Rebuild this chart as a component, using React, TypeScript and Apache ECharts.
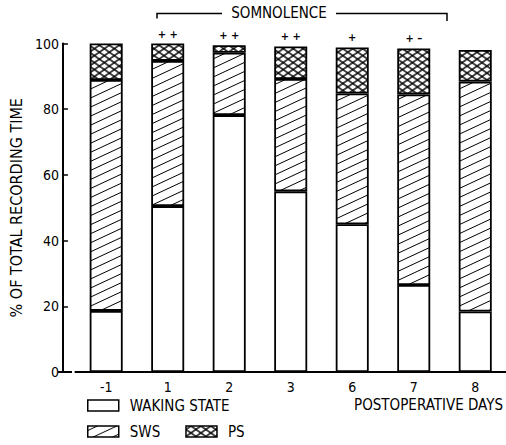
import React, { useEffect, useRef } from "react";
import * as echarts from "echarts";

const categories = ["-1", "1", "2", "3", "6", "7", "8"];
const waking = [18.6, 50.5, 78.2, 55.0, 45.0, 26.5, 18.4];
const sws = [70.3, 44.2, 19.0, 34.2, 39.8, 58.0, 70.0];
const ps = [11.1, 5.3, 2.3, 9.9, 14.0, 14.0, 9.6];
const markers = ["", "+ +", "+ +", "+ +", "+", "+ \u2013", ""];
const seriesNames = ["WAKING STATE", "SWS", "PS"];

const FONT = "'Liberation Sans Narrow', 'DejaVu Sans Condensed', 'Liberation Sans', sans-serif";
const PW = 520;
const PH = 460;

function toUrl(svg: string) {
  return "data:image/svg+xml;charset=utf-8," + encodeURIComponent(svg);
}

const hatchSvg = `<svg xmlns='http://www.w3.org/2000/svg' width='${PW}' height='${PH}'><defs><pattern id='h' width='40' height='8.2' patternUnits='userSpaceOnUse' patternTransform='rotate(-25)'><line x1='-5' y1='4.1' x2='45' y2='4.1' stroke='#000' stroke-width='1.1'/></pattern></defs><rect width='${PW}' height='${PH}' fill='#fff'/><rect width='${PW}' height='${PH}' fill='url(#h)'/></svg>`;

const crossSvg = `<svg xmlns='http://www.w3.org/2000/svg' width='${PW}' height='${PH}'><defs><pattern id='a' width='40' height='5.7' patternUnits='userSpaceOnUse' patternTransform='rotate(-35)'><line x1='-5' y1='2.85' x2='45' y2='2.85' stroke='#000' stroke-width='1.3'/></pattern><pattern id='b' width='40' height='5.7' patternUnits='userSpaceOnUse' patternTransform='rotate(35)'><line x1='-5' y1='2.85' x2='45' y2='2.85' stroke='#000' stroke-width='1.3'/></pattern></defs><rect width='${PW}' height='${PH}' fill='#fff'/><rect width='${PW}' height='${PH}' fill='url(#a)'/><rect width='${PW}' height='${PH}' fill='url(#b)'/></svg>`;

const hatchFill: any = { image: toUrl(hatchSvg), repeat: "repeat", imageWidth: PW, imageHeight: PH };
const crossFill: any = { image: toUrl(crossSvg), repeat: "repeat", imageWidth: PW, imageHeight: PH };

export default function App() {
  const ref = useRef<HTMLDivElement>(null);
  useEffect(() => {
    if (!ref.current) return;
    const chart = echarts.init(ref.current, null, { renderer: "svg" });
    const border = { borderColor: "#000", borderWidth: 1.8 };
    const legendCommon = {
      orient: "horizontal",
      left: 87,
      icon: "rect",
      itemWidth: 31,
      itemHeight: 11,
      itemGap: 25,
      padding: 0,
      selectedMode: false,
      itemStyle: { borderColor: "#000", borderWidth: 1.5 },
      textStyle: { fontFamily: FONT, fontSize: 15, color: "#000", padding: [0, 0, 0, 6] },
    };
    chart.setOption({
      animation: false,
      backgroundColor: "#fff",
      grid: { left: 71.5, top: 43.5, width: 455, height: 328.5 },
      xAxis: {
        type: "category",
        data: categories,
        axisLine: { lineStyle: { color: "#000", width: 2 } },
        axisTick: { show: false },
        axisLabel: { margin: 8, fontFamily: FONT, fontSize: 14, color: "#000" },
      },
      yAxis: {
        type: "value",
        min: 0,
        max: 100,
        interval: 20,
        offset: 12.5,
        name: "% OF TOTAL RECORDING TIME",
        nameLocation: "middle",
        nameGap: 31,
        nameTextStyle: { fontFamily: FONT, fontSize: 16, color: "#000" },
        axisLine: { show: true, lineStyle: { color: "#000", width: 2 } },
        axisTick: { show: true, inside: true, length: 5, lineStyle: { color: "#000", width: 1.5 } },
        axisLabel: { margin: 4, fontFamily: FONT, fontSize: 14, color: "#000" },
        splitLine: { show: false },
      },
      legend: [
        { ...legendCommon, top: 398, data: [seriesNames[0]] },
        { ...legendCommon, top: 424, data: [seriesNames[1], seriesNames[2]] },
      ],
      series: [
        {
          name: seriesNames[0],
          type: "bar",
          stack: "t",
          barWidth: 33,
          data: waking,
          itemStyle: { color: "#fff", ...border },
        },
        {
          name: seriesNames[1],
          type: "bar",
          stack: "t",
          barWidth: 33,
          data: sws,
          itemStyle: { color: hatchFill, ...border },
        },
        {
          name: seriesNames[2],
          type: "bar",
          stack: "t",
          barWidth: 33,
          data: ps,
          itemStyle: { color: crossFill, ...border },
          label: {
            show: true,
            position: "top",
            distance: 4,
            formatter: (p: any) => markers[p.dataIndex],
            fontFamily: FONT,
            fontSize: 11,
            fontWeight: "bold",
            color: "#000",
          },
        },
      ],
      graphic: [
        { type: "line", shape: { x1: 58, y1: 372, x2: 72, y2: 372 }, style: { stroke: "#000", lineWidth: 2 } },
        {
          type: "polyline",
          shape: { points: [[157, 18.5], [157, 13.5], [222, 13.5]] },
          style: { stroke: "#000", lineWidth: 1.5, fill: "none" },
        },
        {
          type: "polyline",
          shape: { points: [[336, 13.5], [447, 13.5], [447, 21]] },
          style: { stroke: "#000", lineWidth: 1.5, fill: "none" },
        },
        {
          type: "text",
          x: 279,
          y: 13,
          style: { text: "SOMNOLENCE", fontFamily: FONT, fontSize: 15, fill: "#000", align: "center", verticalAlign: "middle" },
        },
        {
          type: "text",
          x: 503,
          y: 405,
          style: { text: "POSTOPERATIVE DAYS", fontFamily: FONT, fontSize: 15, fill: "#000", align: "right", verticalAlign: "middle" },
        },
      ],
    });
    return () => chart.dispose();
  }, []);
  return <div ref={ref} style={{ position: "fixed", left: 0, top: 0, width: 506, height: 445 }} />;
}
